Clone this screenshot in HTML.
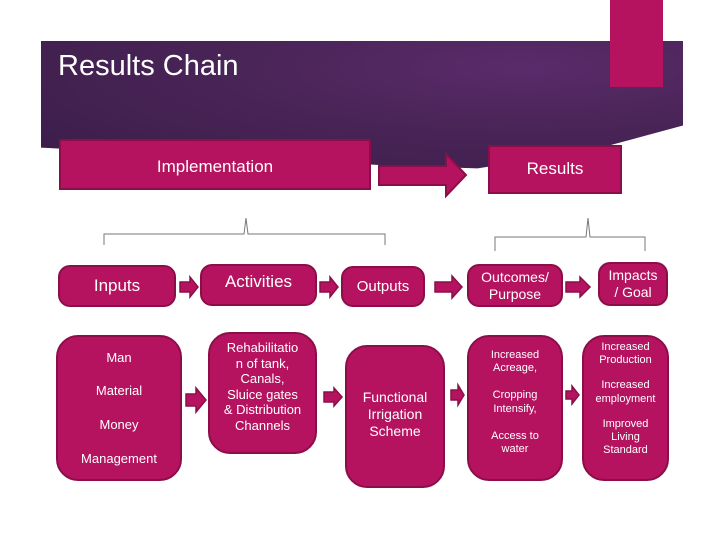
<!DOCTYPE html>
<html><head><style>
body{margin:0;width:720px;height:540px;background:#fff;position:relative;overflow:hidden;font-family:"Liberation Sans",sans-serif}
.a{position:absolute}
.bx{position:absolute;background:#b5135f;border:2px solid #8c0e48;color:#fff;display:flex;align-items:center;justify-content:center;text-align:center;box-sizing:border-box;line-height:1.2}
.r{border-radius:12px}
.rr{border-radius:22px;flex-direction:column}
</style></head><body>
<div class="a" style="left:41px;top:41px;width:642px;height:130px;background:radial-gradient(ellipse at 75% 20%,#5a2b6a 0%,#4a2558 40%,#3a1c48 100%);clip-path:polygon(0 0,100% 0,100% 65%,85% 85%,68% 98%,55% 96%,0 82%)"></div>
<div class="a" style="left:610px;top:0;width:53px;height:87px;background:#b5135f"></div>
<div class="a" style="left:58px;top:50px;color:#fff;font-size:29px">Results Chain</div>
<div class="bx" style="left:59px;top:139px;width:312px;height:51px;font-size:17px;align-items:flex-start;padding-top:16px">Implementation</div>
<div class="bx" style="left:488px;top:145px;width:134px;height:49px;font-size:17px">Results</div>
<svg class="a" style="left:0;top:0" width="720" height="540">
<polygon points="379,166 446,166 446,154 466,175 446,196 446,185 379,185" fill="#b5135f" stroke="#8c0e48" stroke-width="2"/>
<path d="M104,245 V234 H244 L246,218 L248,234 H385 V245" fill="none" stroke="#777" stroke-width="1"/>
<path d="M495,251 V237 H586 L588,218 L590,237 H645 V251" fill="none" stroke="#777" stroke-width="1"/>
<g fill="#b5135f" stroke="#8c0e48" stroke-width="1.5">
<polygon points="180,282 190,282 190,277 198,287 190,297 190,292 180,292"/>
<polygon points="320,282 330,282 330,277 338,287 330,297 330,292 320,292"/>
<polygon points="435,282 452,282 452,276 462,287 452,298 452,292 435,292"/>
<polygon points="566,282 580,282 580,277 590,287 580,297 580,292 566,292"/>
<polygon points="186,394 196,394 196,388 206,400 196,412 196,406 186,406"/>
<polygon points="324,392 334,392 334,388 342,397 334,406 334,402 324,402"/>
<polygon points="451,390 458,390 458,385 464,395 458,405 458,400 451,400"/>
<polygon points="566,391 572,391 572,386 579,395 572,404 572,399 566,399"/>
</g></svg>
<div class="bx r" style="left:58px;top:265px;width:118px;height:42px;font-size:17px">Inputs</div>
<div class="bx r" style="left:200px;top:264px;width:117px;height:42px;font-size:17px;padding-bottom:6px">Activities</div>
<div class="bx r" style="left:341px;top:266px;width:84px;height:41px;font-size:15px;font-weight:300">Outputs</div>
<div class="bx r" style="left:467px;top:264px;width:96px;height:43px;font-size:14px">Outcomes/<br>Purpose</div>
<div class="bx r" style="left:598px;top:262px;width:70px;height:44px;font-size:14px">Impacts<br>/ Goal</div>
<div class="bx rr" style="left:56px;top:335px;width:126px;height:146px;font-size:13px;gap:18px"><div>Man</div><div>Material</div><div>Money</div><div>Management</div></div>
<div class="bx rr" style="left:208px;top:332px;width:109px;height:122px;font-size:13px;justify-content:flex-start;padding-top:6px">Rehabilitatio<br>n of tank,<br>Canals,<br>Sluice gates<br>&amp; Distribution<br>Channels</div>
<div class="bx rr" style="left:345px;top:345px;width:100px;height:143px;font-size:14px;justify-content:flex-start;padding-top:42px">Functional<br>Irrigation<br>Scheme</div>
<div class="bx rr" style="left:467px;top:335px;width:96px;height:146px;font-size:11px;gap:14px;justify-content:flex-start;padding-top:12px"><div>Increased<br>Acreage,</div><div>Cropping<br>Intensify,</div><div>Access to<br>water</div></div>
<div class="bx rr" style="left:582px;top:335px;width:87px;height:146px;font-size:11px;gap:12px;justify-content:flex-start;padding-top:4px"><div>Increased<br>Production</div><div>Increased<br>employment</div><div>Improved<br>Living<br>Standard</div></div>
</body></html>
